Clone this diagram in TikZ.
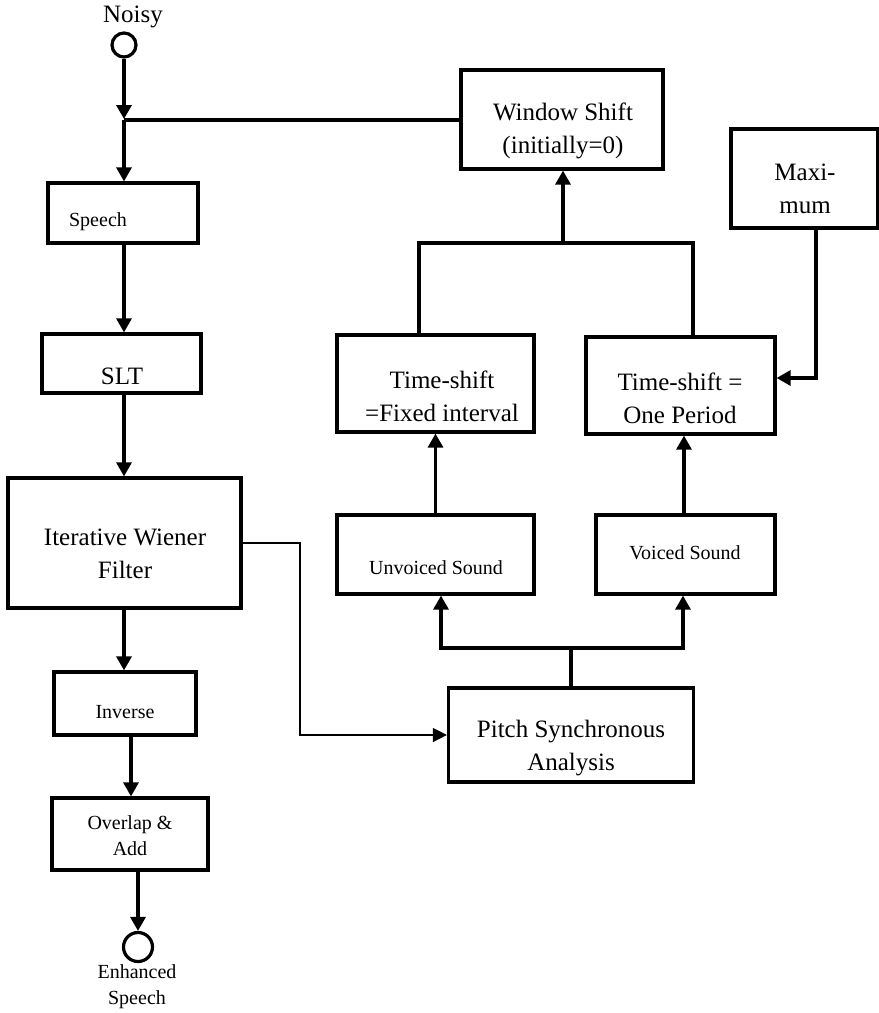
\documentclass[tikz,border=0pt]{standalone}
\usepackage{fontspec}
\setmainfont{Liberation Serif}
\usetikzlibrary{arrows.meta,calc}
\tikzset{
  boxn/.style={draw, line width=3.2pt, rectangle, inner sep=0pt},
  circn/.style={draw, line width=3.2pt, circle, inner sep=0pt},
  big/.style={inner sep=0pt, align=center, font=\fontsize{25}{33}\selectfont},
  small/.style={inner sep=0pt, align=center, font=\fontsize{20}{26}\selectfont},
  arr/.style={line width=3.2pt, -{Triangle[length=14pt,width=15pt]}},
  ln/.style={line width=3.2pt},
  thinarr/.style={line width=1.4pt, -{Triangle[length=14pt,width=14pt]}}
}
\begin{document}
\begin{tikzpicture}[x=1pt,y=-1pt]
\useasboundingbox (0,0) rectangle (879,1013);

% left chain
\node[big] (noisytxt) at (133,17) {Noisy};
\node[circn, minimum size=24pt] (noisy) at (124,45) {};
\coordinate (j1) at (124,120);

\node[boxn, minimum width=150pt, minimum height=60pt] (speech) at (123,213) {};
\node[small] (speechtxt) at (98,222) {Speech};

\node[boxn, minimum width=159pt, minimum height=59pt] (slt) at (121.5,363.5) {};
\node[big] (slttxt) at (122,376) {SLT};

\node[boxn, minimum width=233pt, minimum height=130pt] (iwf) at (124.5,543) {};
\node[big] (iwftxt) at (125,554) {Iterative Wiener\\Filter};

\node[boxn, minimum width=142pt, minimum height=63pt] (inv) at (125,703.5) {};
\node[small] (invtxt) at (125,712) {Inverse};

\node[boxn, minimum width=156pt, minimum height=72pt] (ola) at (130,834) {};
\node[small] (olatxt) at (130,836) {Overlap \&\\Add};

\node[circn, minimum size=29pt] (enh) at (138,947) {};
\node[small] (enhtxt) at (137,987) {Enhanced\\Speech};

% right side
\node[boxn, minimum width=202pt, minimum height=99pt] (win) at (562,119.5) {};
\node[big] (wintxt) at (563,131) {Window Shift\\(initially=0)};

\node[boxn, minimum width=147pt, minimum height=99pt] (max) at (804.5,178.5) {};
\node[big] (maxtxt) at (805,189) {Maxi-\\mum};

\node[boxn, minimum width=197pt, minimum height=97pt] (fix) at (435.5,383.5) {};
\node[big] (fixtxt) at (442,396) {Time-shift\\=Fixed interval};

\node[boxn, minimum width=189pt, minimum height=97pt] (onep) at (680.5,385.5) {};
\node[big] (oneptxt) at (680,398) {Time-shift =\\One Period};

\node[boxn, minimum width=197pt, minimum height=79pt] (unv) at (435.5,554.5) {};
\node[small] (unvtxt) at (436,568) {Unvoiced Sound};

\node[boxn, minimum width=179pt, minimum height=79pt] (voi) at (685.5,554.5) {};
\node[small] (voitxt) at (685,553) {Voiced Sound};

\node[boxn, minimum width=245pt, minimum height=94pt] (pitch) at (571,735) {};
\node[big] (pitchtxt) at (571,748) {Pitch Synchronous\\Analysis};

% left chain connectors
\draw[arr] (noisy.south) -- ($(j1)+(0,-1)$);
\draw[ln] (j1) -- (j1 -| win.west);
\draw[arr] (j1) -- (j1 |- speech.north);
\draw[arr] (speech.south -| j1) -- (j1 |- slt.north);
\draw[arr] (slt.south -| j1) -- (j1 |- iwf.north);
\draw[arr] (iwf.south -| j1) -- (j1 |- inv.north);
\coordinate (x2) at (131,0);
\draw[arr] (inv.south -| x2) -- (x2 |- ola.north);
\coordinate (x3) at (138,0);
\draw[arr] (ola.south -| x3) -- (enh.north);

% IWF to pitch
\coordinate (tc) at (300,543);
\draw[thinarr] (iwf.east) -- (tc) -- (tc |- pitch.west) -- (pitch.west);

% pitch branch
\coordinate (pb) at (571,648);
\coordinate (pbl) at (441,648);
\coordinate (pbr) at (683,648);
\draw[ln] (pitch.north) -- (pb);
\draw[arr] (pb) -- (pbl) -- (pbl |- unv.south);
\draw[arr] (pb) -- (pbr) -- (pbr |- voi.south);

% up to time-shift boxes
\draw[arr] (unv.north) -- (unv.north |- fix.south);
\coordinate (xv) at (684,0);
\draw[arr] (voi.north -| xv) -- (xv |- onep.south);

% branch to window
\coordinate (bl) at (419,243);
\coordinate (br) at (693,243);
\coordinate (bm) at (563,243);
\draw[ln, line join=miter] (fix.north -| bl) -- (bl) -- (br) -- (br |- onep.north);
\draw[arr] (bm) -- (bm |- win.south);

% maximum
\coordinate (mx) at (816,378);
\draw[arr] (max.south -| mx) -- (mx) -- (mx -| onep.east);
\end{tikzpicture}
\end{document}
